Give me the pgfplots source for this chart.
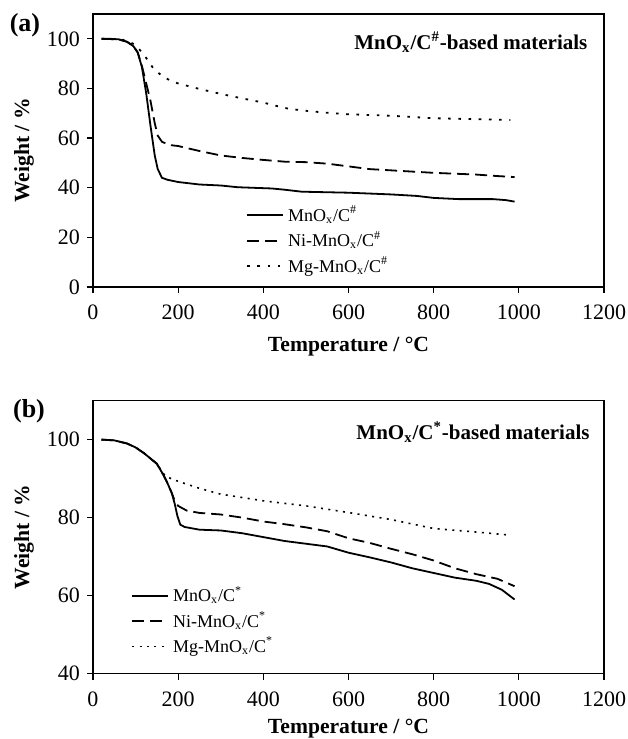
\documentclass[border=0pt]{standalone}
\usepackage{pgfplots}
\pgfplotsset{compat=1.18}
\usepackage{fontspec}
\setmainfont{Liberation Serif}

\pgfplotsset{
  tga/.style={
    scale only axis, width=255.5pt, height=136.5pt,
    xmin=0, xmax=1200, xtick={0,200,...,1200},
    ymax=110,
    axis line style={line width=0.7pt},
    tick style={line width=0.6pt, black},
    tick align=outside, major tick length=3pt,
    xtick pos=bottom, ytick pos=left,
    /pgf/number format/assume math mode=true,
    /pgf/number format/1000 sep={},
    ticklabel style={font=\fontsize{11}{13}\selectfont},
    xticklabel style={yshift=-2.5pt},
    label style={font=\fontsize{10.8}{12}\selectfont\bfseries},
    xlabel={Temperature / \textdegree C},
    ylabel={Weight / \%},
    ylabel style={at={(axis description cs:-0.135,0.5)}, anchor=center},
    legend cell align=left,
    legend style={draw=none, fill=none, font=\fontsize{9}{11}\selectfont,
      row sep=-0.6pt, anchor=north west},
    legend image code/.code={\draw[#1] (0pt,0pt) -- (18pt,0pt);},
  },
  sol/.style={black, line width=0.9pt},
  dsh/.style={black, line width=0.9pt, dash pattern=on 6pt off 3pt},
  dot/.style={black, line width=0.9pt, dash pattern=on 1.3pt off 3.8pt},
  dotb/.style={black, line width=0.8pt, dash pattern=on 1pt off 2.7pt},
}

\begin{document}
\begin{tikzpicture}
\useasboundingbox (-46.5pt,7pt) rectangle (267pt,-362.5pt);

% (a)
\begin{axis}[tga, name=pa, at={(0,0)}, anchor=north west, ymin=0, ytick={0,20,...,100},
  xlabel style={at={(axis description cs:0.5,-0.22)}, anchor=center},
  legend style={at={(axis cs:345,36)}}]
\addplot[sol] coordinates {(20,100)(40,100)(60,99.8)(80,98.8)(95,97)(105,94.5)(115,88.5)(125,78)(135,65)(145,53)(152,47.5)(162,44)(175,43.2)(200,42.3)(250,41.3)(300,40.9)(340,40.2)(420,39.7)(450,39.2)(490,38.4)(600,38)(700,37.3)(760,36.7)(800,35.9)(860,35.4)(940,35.4)(970,35)(990,34.4)};
\addlegendentry{MnO\textsubscript{x}/C\textsuperscript{\#}}
\addplot[dsh] coordinates {(20,100)(60,99.8)(80,98.8)(95,97)(105,94.5)(115,89)(125,82)(135,75)(145,66)(152,61)(162,58.5)(180,57.2)(200,56.8)(250,54.8)(300,53)(350,52)(400,51.2)(450,50.5)(500,50.3)(550,49.7)(600,48.6)(650,47.5)(700,47)(800,46)(900,45.3)(950,44.7)(990,44.3)};
\addlegendentry{Ni-MnO\textsubscript{x}/C\textsuperscript{\#}}
\addplot[dot] coordinates {(20,100)(60,99.8)(80,99.3)(100,97.5)(120,93.5)(140,88.5)(160,85.3)(180,83.3)(200,82)(250,79.8)(300,77.8)(350,76)(400,74.3)(430,73)(460,71.8)(500,71)(550,70.2)(600,69.6)(700,69)(800,68)(900,67.6)(980,67.3)};
\addlegendentry{Mg-MnO\textsubscript{x}/C\textsuperscript{\#}}
\node[anchor=east, inner sep=0pt, font=\fontsize{10.5}{13}\selectfont\bfseries] at (axis cs:1162,98.6) {MnO\textsubscript{x}/C\textsuperscript{\#}-based materials};
\end{axis}

% (b)
\begin{axis}[tga, name=pb, at={(0,-193.3pt)}, anchor=north west, ymin=40, ytick={40,60,...,100},
  xlabel style={at={(axis description cs:0.5,-0.2)}, anchor=center},
  legend style={at={(axis cs:75,64.5)}}]
\addplot[sol] coordinates {(20,100)(50,99.8)(80,99)(100,98)(120,96.5)(150,93.8)(165,91)(175,88.8)(185,86.3)(192,83.5)(198,80.5)(205,78.2)(215,77.6)(250,76.9)(300,76.7)(350,76)(400,75)(450,74)(500,73.3)(550,72.6)(600,71)(650,69.8)(700,68.5)(750,67)(800,65.8)(850,64.6)(900,63.8)(930,63)(960,61.5)(990,59)};
\addlegendentry{MnO\textsubscript{x}/C\textsuperscript{*}}
\addplot[dsh] coordinates {(20,100)(50,99.8)(80,99)(100,98)(120,96.5)(150,93.8)(165,91)(175,88.8)(185,86.3)(192,84.3)(200,83)(220,81.8)(250,81.2)(300,80.8)(350,80)(400,79)(450,78.3)(500,77.5)(550,76.5)(600,74.7)(650,73.5)(700,72)(750,70.6)(800,69)(850,67)(900,65.5)(950,64.3)(990,62.4)};
\addlegendentry{Ni-MnO\textsubscript{x}/C\textsuperscript{*}}
\addplot[dotb] coordinates {(20,100)(50,99.8)(80,99)(100,98)(120,96.5)(150,93.8)(170,90.6)(200,89.3)(250,87.5)(300,86)(400,84.3)(500,83)(600,81.3)(700,79.5)(800,77.2)(900,76.3)(980,75.5)};
\addlegendentry{Mg-MnO\textsubscript{x}/C\textsuperscript{*}}
\node[anchor=east, inner sep=0pt, font=\fontsize{10.5}{13}\selectfont\bfseries] at (axis cs:1167,101.9) {MnO\textsubscript{x}/C\textsuperscript{*}-based materials};
\end{axis}

\node[font=\fontsize{13}{15}\selectfont\bfseries] at ([xshift=-34pt,yshift=-5.5pt]pa.north west) {(a)};
\node[font=\fontsize{13}{15}\selectfont\bfseries] at ([xshift=-32pt,yshift=-5.5pt]pb.north west) {(b)};
\end{tikzpicture}
\end{document}
